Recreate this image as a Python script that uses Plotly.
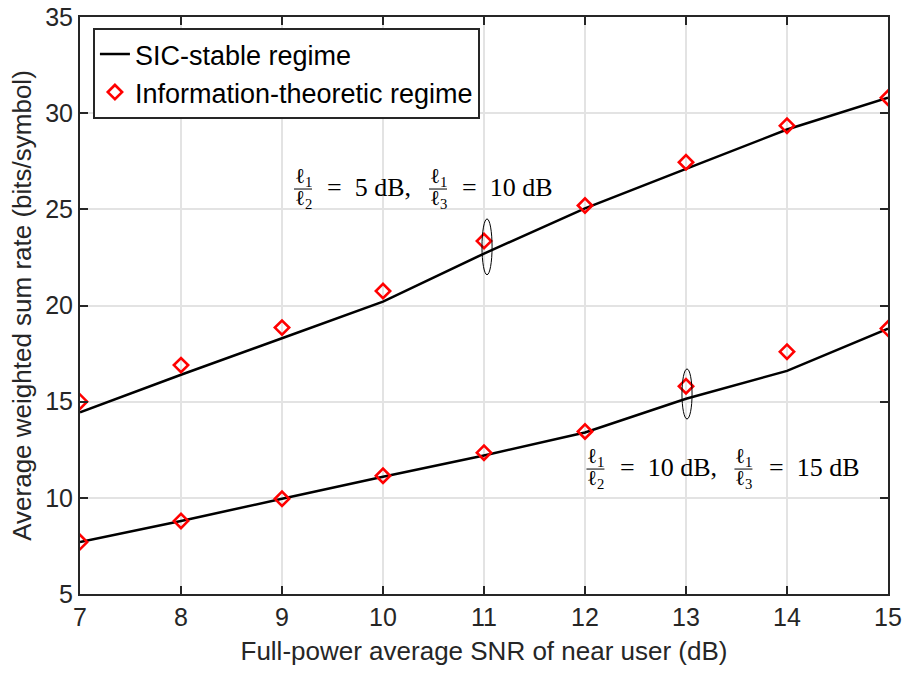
import plotly.graph_objects as go

snr = [7, 8, 9, 10, 11, 12, 13, 14, 15]

# Case A: l1/l2 = 5 dB, l1/l3 = 10 dB
sic_a = [14.45, 16.4, 18.3, 20.2, 22.7, 25.05, 27.1, 29.15, 30.8]
it_a = [15.0, 16.9, 18.85, 20.75, 23.35, 25.2, 27.45, 29.35, 30.8]

# Case B: l1/l2 = 10 dB, l1/l3 = 15 dB
sic_b = [7.7, 8.8, 9.95, 11.1, 12.2, 13.4, 15.15, 16.6, 18.8]
it_b = [7.7, 8.8, 9.95, 11.15, 12.35, 13.45, 15.8, 17.6, 18.8]

x_ticks = [7, 8, 9, 10, 11, 12, 13, 14, 15]
y_ticks = [5, 10, 15, 20, 25, 30, 35]

# ellipse callouts (center x, center y, half-width, half-height) in data units
ellipses = [(11.03, 23.05, 0.05, 1.45), (13.01, 15.4, 0.05, 1.3)]

# labels: anchor (data coords) and parts: first ratio value, second ratio value
label_anchor = [(10.416, 26.16), (13.44, 11.6)]
label_vals = [("5 dB,", "10 dB"), ("10 dB,", "15 dB")]
label_dx = [(-122, -100, 13, 35), (-135, -112, 13, 37)]  # pixel offsets: frac1, text1, frac2, text2

fig = go.Figure()
line_style = dict(color="black", width=2.5)
mk_style = dict(symbol="diamond-open", size=11, color="red", line=dict(width=2.6, color="red"))

fig.add_trace(go.Scatter(x=snr, y=sic_a, mode="lines", line=line_style,
                         name="SIC-stable regime", legendgroup="sic"))
fig.add_trace(go.Scatter(x=snr, y=sic_b, mode="lines", line=line_style,
                         name="SIC-stable regime", legendgroup="sic", showlegend=False))
fig.add_trace(go.Scatter(x=snr, y=it_a, mode="markers", marker=mk_style,
                         name="Information-theoretic regime", legendgroup="it"))
fig.add_trace(go.Scatter(x=snr, y=it_b, mode="markers", marker=mk_style,
                         name="Information-theoretic regime", legendgroup="it", showlegend=False))

shapes = []
for cx, cy, rx, ry in ellipses:
    shapes.append(dict(type="circle", xref="x", yref="y",
                       x0=cx - rx, x1=cx + rx, y0=cy - ry, y1=cy + ry,
                       line=dict(color="black", width=1)))

serif = "Liberation Serif"
main_font = dict(family=serif, size=26, color="black")
frac_font = dict(family=serif, size=21, color="black")
NB = "\u00a0"
annotations = []
for (ax, ay), (v1, v2), (f1, t1, f2, t2) in zip(label_anchor, label_vals, label_dx):
    for fx, den in ((f1, "2"), (f2, "3")):
        annotations.append(dict(x=ax, y=ay, xref="x", yref="y", text="ℓ<sub>1</sub>",
                                showarrow=False, xanchor="center", yanchor="middle",
                                xshift=fx, yshift=10, font=frac_font))
        annotations.append(dict(x=ax, y=ay, xref="x", yref="y", text="ℓ<sub>" + den + "</sub>",
                                showarrow=False, xanchor="center", yanchor="middle",
                                xshift=fx, yshift=-12, font=frac_font))
        shapes.append(dict(type="line", xref="x", yref="y", xsizemode="pixel", ysizemode="pixel",
                           xanchor=ax, yanchor=ay, x0=fx - 9, x1=fx + 9, y0=-2, y1=-2,
                           line=dict(color="black", width=1)))
    for tx, v in ((t1, v1), (t2, v2)):
        annotations.append(dict(x=ax, y=ay, xref="x", yref="y",
                                text="=" + NB + NB + v.replace(" ", NB),
                                showarrow=False, xanchor="left", yanchor="middle",
                                xshift=tx, yshift=0, font=main_font))

axis_common = dict(showline=True, linecolor="#262626", linewidth=2, mirror="ticks",
                   ticks="inside", ticklen=8, tickwidth=2, tickcolor="#262626",
                   showgrid=True, gridcolor="#e3e3e3", gridwidth=2, zeroline=False,
                   tickfont=dict(family="Liberation Sans", size=25, color="#262626"))

fig.update_layout(
    width=904, height=675,
    margin=dict(l=80, r=16, t=17, b=81, autoexpand=False),
    paper_bgcolor="white", plot_bgcolor="white",
    font=dict(family="Liberation Sans", color="#262626"),
    xaxis=dict(range=[7, 15], tickvals=x_ticks,
               title=dict(text="Full-power average SNR of near user (dB)",
                          font=dict(family="Liberation Sans", size=26, color="#262626"),
                          standoff=12),
               **axis_common),
    yaxis=dict(range=[5, 35], tickvals=y_ticks,
               title=dict(text="Average weighted sum rate (bits/symbol)",
                          font=dict(family="Liberation Sans", size=26, color="#262626"),
                          standoff=6),
               **axis_common),
    legend=dict(x=0.016, y=0.981, xanchor="left", yanchor="top",
                bgcolor="white", bordercolor="#262626", borderwidth=2,
                font=dict(family="Liberation Sans", size=27, color="black"),
                tracegroupgap=0),
    shapes=shapes,
    annotations=annotations,
    showlegend=True,
)

fig.write_html("out.html")
